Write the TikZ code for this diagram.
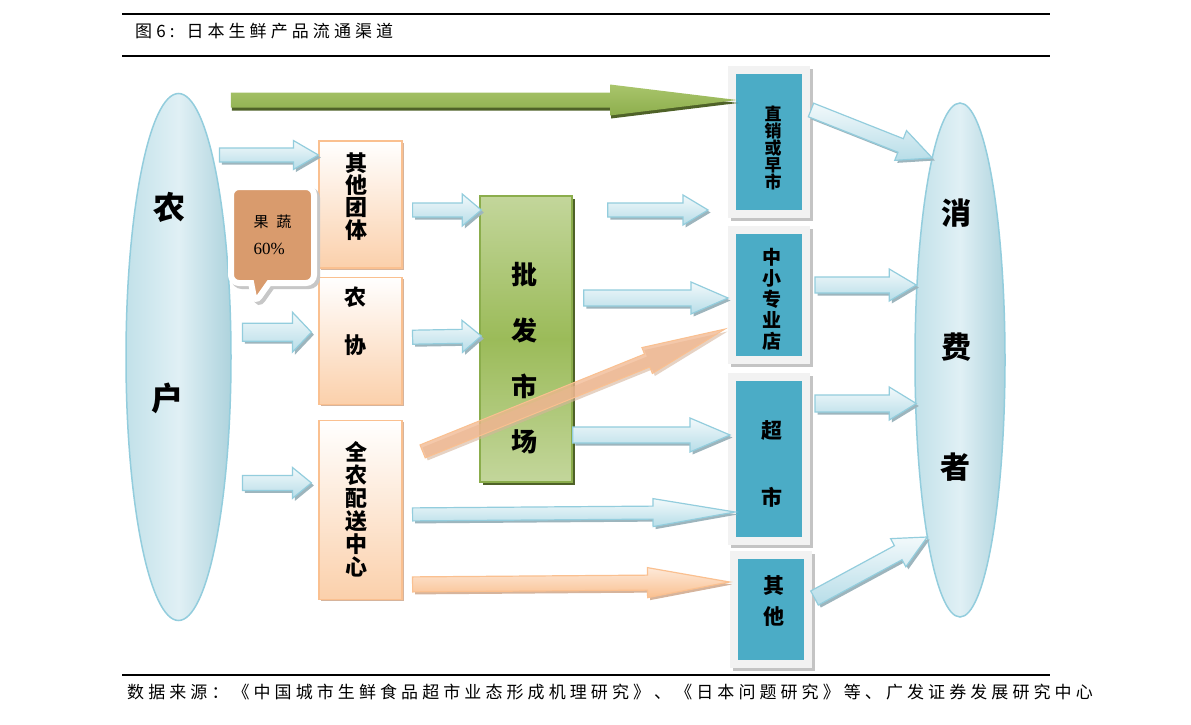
\documentclass[tikz,border=0pt]{standalone}
\usepackage{fontspec}
\usetikzlibrary{positioning, calc, shapes.geometric, shapes.callouts, shadows}
\newfontfamily\cjkfont{Noto Sans CJK SC}
\newfontfamily\cjkwide[LetterSpace=24]{Noto Sans CJK SC}
\newfontfamily\numfont{Liberation Serif}
\definecolor{Teal}{HTML}{4BACC6}
\definecolor{Frame}{HTML}{F2F2F2}
\definecolor{FrameShadow}{HTML}{C4C4C4}
\definecolor{SkyLine}{HTML}{93CDDD}
\definecolor{SkyTop}{HTML}{F2F9FB}
\definecolor{SkyBot}{HTML}{B7DDE8}
\definecolor{SkyShadow}{HTML}{9DB5BD}
\definecolor{EllEdge}{HTML}{C2E1E9}
\definecolor{EllMid}{HTML}{E0F0F5}
\definecolor{EllDark}{HTML}{AED3DD}
\definecolor{PeachLine}{HTML}{FAC090}
\definecolor{PeachFill}{HTML}{FBD0AB}
\definecolor{PeachTop}{HTML}{FDE9D9}
\definecolor{PeachMid}{HTML}{F1B68E}
\definecolor{PeachShadow}{HTML}{D6B49C}
\definecolor{Grass}{HTML}{9BBB59}
\definecolor{GrassTop}{HTML}{A9C56C}
\definecolor{GrassBot}{HTML}{8DAE4C}
\definecolor{GrassShadow}{HTML}{4F6228}
\definecolor{GreenLight}{HTML}{C3D69B}
\definecolor{GreenLine}{HTML}{8BAD4C}
\definecolor{Tan}{HTML}{D99B6D}
% size and line pitch of the Chinese labels
\newcommand{\cjksize}[2]{\cjkfont\bfseries\fontsize{#1}{#2}\selectfont\lineskiplimit=-100pt}
% block arrow: [style]{from}{to}{half shaft}{half head}{head length}
\newcommand{\blockarrow}[6][]{%
  \path[#1] let \p1=#2, \p2=#3, \n1={veclen(\x2-\x1,\y2-\y1)}, \n2={atan2(\y2-\y1,\x2-\x1)} in
    [shift={(\p1)}, rotate=\n2] (0pt,#4) -- ({\n1-#6},#4) -- ({\n1-#6},#5) -- (\n1,0pt)
    -- ({\n1-#6},-#5) -- ({\n1-#6},-#4) -- (0pt,-#4) -- cycle;}

\begin{document}
\begin{tikzpicture}[x=1pt, y=-1pt,
    every node/.style={font=\cjkfont},
    farm/.style={ellipse, draw=SkyLine, line width=1.5pt, left color=EllEdge, right color=EllDark, middle color=EllMid},
    peach/.style={draw=PeachLine, line width=1.2pt, top color=white, bottom color=PeachFill, minimum width=83pt,
        drop shadow={shadow xshift=2pt, shadow yshift=-2pt, fill=PeachShadow, opacity=1}},
    market/.style={draw=GreenLine, line width=1.5pt, top color=GreenLight, bottom color=GreenLight, middle color=Grass,
        minimum width=92pt, minimum height=286pt,
        drop shadow={shadow xshift=3pt, shadow yshift=-3pt, fill=GrassShadow, opacity=1}},
    shopbox/.style={fill=Teal, draw=Frame, line width=8pt, minimum width=74pt,
        drop shadow={shadow xshift=3pt, shadow yshift=-3pt, fill=FrameShadow, draw=FrameShadow, line width=8pt, opacity=1}},
    bubble/.style={rectangle callout, rounded corners=8pt, fill=Tan, draw=white, line width=6pt,
        minimum width=83pt, minimum height=96pt, callout pointer width=18pt, align=left,
        drop shadow={shadow xshift=3pt, shadow yshift=-3pt, fill=black!22, draw=black!22, line width=6pt, opacity=1}},
    boxtxt/.style={align=center, inner sep=0pt},
    skyarrow/.style={draw=SkyLine, line width=1.2pt, top color=SkyTop, bottom color=SkyBot,
        drop shadow={shadow xshift=2.5pt, shadow yshift=-2.5pt, fill=SkyShadow, opacity=1}},
    grassarrow/.style={top color=GrassTop, bottom color=GrassBot,
        drop shadow={shadow xshift=1pt, shadow yshift=-3pt, fill=GrassShadow, opacity=1}},
    peacharrow/.style={draw=PeachLine, line width=1.2pt, top color=PeachTop, bottom color=PeachLine,
        drop shadow={shadow xshift=2.5pt, shadow yshift=-2.5pt, fill=PeachShadow, opacity=1}},
    glassarrow/.style={draw=PeachLine, line width=1pt, fill=PeachMid, fill opacity=.75,
        drop shadow={shadow xshift=2.5pt, shadow yshift=-2.5pt, fill=PeachShadow, opacity=.6}}
]
\useasboundingbox (0,0) rectangle (1191,725);
\fill[white] (0,0) rectangle (1191,725);

% title and rules
\draw[line width=2.5pt] (122,14) -- (1050,14);
\draw[line width=1.2pt] (122,56) -- (1050,56);
\draw[line width=2.5pt] (122,675) -- (1050,675);
\node[anchor=west, inner sep=0pt, font=\cjkwide\fontsize{17}{17}\selectfont] (title) at (135,31) {图6:\hspace{12pt}日本生鲜产品流通渠道};
\node[anchor=west, inner sep=0pt, font=\cjkwide\fontsize{17}{17}\selectfont] (source) at (127,692) {数据来源：《中国城市生鲜食品超市业态形成机理研究》、《日本问题研究》等、广发证券发展研究中心};

% producers and consumers
\node[farm, minimum width=105pt, minimum height=527pt] (farmer) at (178.5,357) {};
\node[farm, minimum width=90pt, minimum height=514pt] (consumer) at (960,360) {};

% intermediate channels
\node[peach, minimum height=127pt] (other) at (360.5,204.5) {};
\node[peach, minimum height=127pt, below=8pt of other] (coop) {};
\node[peach, minimum height=179pt, below=15pt of coop] (zen) {};
\node[market] (whole) at (526,339) {};

% retail outlets
\node[shopbox, minimum height=144pt] (direct) at (769,142) {};
\node[shopbox, minimum height=130pt, below=8pt of direct] (small) {};
\node[shopbox, minimum height=164pt, below=9pt of small] (supm) {};
\node[shopbox, minimum height=109pt, below=6pt of supm, xshift=1.5pt] (misc) {};

\node[bubble, callout absolute pointer={(255,303)}] (veg) at (272.5,235)
    {\fontsize{15}{18}\selectfont 果\hspace{8pt}蔬\\[14pt]{\numfont\fontsize{17}{18}\selectfont 60\%}};

% labels
\node[boxtxt, font=\cjksize{32}{32}] (farmerA) at (169.5,207) {农};
\node[boxtxt, font=\cjksize{32}{32}] (farmerB) at (167,398) {户};
\node[boxtxt, font=\cjksize{30}{30}] (consA) at (956,213) {消};
\node[boxtxt, font=\cjksize{30}{30}] (consB) at (956,347) {费};
\node[boxtxt, font=\cjksize{30}{30}] (consC) at (955,467) {者};
\node[boxtxt, font=\cjksize{22}{22.3}] (otherT) at (356,196.5) {其\\他\\团\\体};
\node[boxtxt, font=\cjksize{22}{48}] (coopT) at (355,321) {农\\协};
\node[boxtxt, font=\cjksize{22}{23}] (zenT) at (356,509.5) {全\\农\\配\\送\\中\\心};
\node[boxtxt, font=\cjksize{26}{55.7}] (wholeT) at (524,358.5) {批\\发\\市\\场};
\node[boxtxt, font=\cjksize{17}{17}] (directT) at (773,148) {直\\销\\或\\早\\市};
\node[boxtxt, font=\cjksize{19}{21}] (smallT) at (772,299) {中\\小\\专\\业\\店};
\node[boxtxt, font=\cjksize{21}{67}] (supmT) at (772,463.5) {超\\市};
\node[boxtxt, font=\cjksize{21}{31}] (miscT) at (774,601.5) {其\\他};

% flows
\blockarrow[grassarrow]{($(farmer.east)+(-1,-257)$)}{($(direct.west)+(9,-42)$)}{7.5pt}{15.5pt}{127pt}
\blockarrow[skyarrow]{($(other.west)+(-99,-49.5)$)}{($(other.west)+(0,-49.5)$)}{7pt}{14.5pt}{25pt}
\blockarrow[skyarrow]{($(coop.west)+(-76,-8.5)$)}{($(coop.west)+(-7,-8.5)$)}{9pt}{20pt}{19pt}
\blockarrow[skyarrow]{($(zen.west)+(-76,-27)$)}{($(zen.west)+(-7,-27)$)}{7.5pt}{15.5pt}{19pt}
\blockarrow[skyarrow]{($(other.east)+(10,5.5)$)}{($(whole.west)+(2,-129)$)}{7pt}{16pt}{19pt}
\blockarrow[skyarrow]{($(coop.east)+(10,-3.5)$)}{($(whole.west)+(2,-3)$)}{7pt}{16pt}{19pt}
\blockarrow[skyarrow]{($(whole.east)+(35,-129)$)}{($(direct.west)+(-20,68)$)}{7pt}{15pt}{25pt}
\blockarrow[skyarrow]{($(whole.east)+(11,-41)$)}{($(small.west)+(0,3)$)}{8pt}{16pt}{37pt}
\blockarrow[skyarrow]{($(whole.east)+(0,96)$)}{($(supm.west)+(2,-24)$)}{8pt}{17pt}{40pt}
\blockarrow[skyarrow]{($(zen.east)+(10,4.5)$)}{($(supm.west)+(7,53)$)}{6.5pt}{14pt}{82pt}
\blockarrow[peacharrow]{($(zen.east)+(10,74.5)$)}{($(misc.west)+(0,-27.5)$)}{7.5pt}{15pt}{82pt}
\blockarrow[glassarrow]{($(zen.east)+(20,-58.5)$)}{($(small.west)+(-3,34)$)}{7pt}{14pt}{84pt}
\blockarrow[skyarrow]{($(direct.east)+(1,-32)$)}{($(consumer.west)+(18,-202)$)}{7.3pt}{16pt}{34pt}
\blockarrow[skyarrow]{($(small.east)+(5,-10)$)}{($(consumer.west)+(2,-75)$)}{8pt}{16pt}{27pt}
\blockarrow[skyarrow]{($(supm.east)+(5,-55.5)$)}{($(consumer.west)+(2,43.5)$)}{8.5pt}{16.5pt}{27pt}
\blockarrow[skyarrow]{($(misc.east)+(3,-11.5)$)}{($(consumer.west)+(13,177)$)}{8pt}{16pt}{33pt}

\end{tikzpicture}
\end{document}
